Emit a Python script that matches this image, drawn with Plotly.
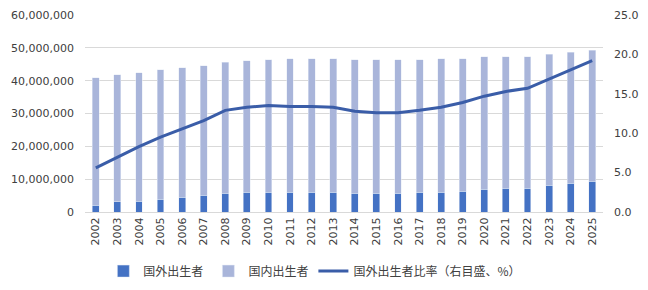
import plotly.graph_objects as go

years = [str(y) for y in range(2002, 2026)]

# foreign-born population (persons)
foreign = [2.0e6, 3.1e6, 3.3e6, 3.9e6, 4.5e6, 5.1e6, 5.7e6, 6.0e6, 6.0e6, 6.0e6, 6.0e6, 6.0e6,
           5.7e6, 5.7e6, 5.7e6, 6.0e6, 6.0e6, 6.3e6, 6.9e6, 7.2e6, 7.2e6, 8.2e6, 8.8e6, 9.4e6]
# total population (stack top), native = total - foreign
total = [40.9e6, 41.8e6, 42.4e6, 43.4e6, 44.0e6, 44.6e6, 45.6e6, 46.1e6, 46.4e6, 46.7e6, 46.7e6, 46.7e6,
         46.4e6, 46.4e6, 46.4e6, 46.4e6, 46.7e6, 46.7e6, 47.3e6, 47.3e6, 47.3e6, 48.0e6, 48.6e6, 49.2e6]
native = [t - f for t, f in zip(total, foreign)]
# foreign-born share (%), right axis
ratio = [5.6, 7.0, 8.3, 9.5, 10.5, 11.6, 12.9, 13.3, 13.5, 13.4, 13.4, 13.3,
         12.8, 12.6, 12.6, 12.9, 13.3, 13.9, 14.7, 15.3, 15.7, 16.9, 18.1, 19.2]

fig = go.Figure()
fig.add_trace(go.Bar(x=years, y=foreign, name="国外出生者", marker_color="#4472C4"))
fig.add_trace(go.Bar(x=years, y=native, name="国内出生者", marker_color="#A9B5DA"))
fig.add_trace(go.Scatter(x=years, y=ratio, name="国外出生者比率（右目盛、%）", yaxis="y2",
                         mode="lines", line=dict(color="#3A5DA8", width=3)))

# page body has an 8px margin, so the figure is a bit smaller and offset
fig.update_layout(
    width=640, height=282,
    margin=dict(l=77, r=45, t=7, b=78, autoexpand=False),
    barmode="stack", bargap=0.68,
    plot_bgcolor="white", paper_bgcolor="white",
    font=dict(family='"DejaVu Sans", "Noto Sans CJK JP"', size=11, color="#404040"),
    xaxis=dict(tickangle=-90, showgrid=False, showline=True, linecolor="#D9D9D9",
               ticks="", tickfont=dict(size=11), automargin=False),
    yaxis=dict(range=[0, 60e6], dtick=10e6, tickformat=",", gridcolor="#D9D9D9",
               zeroline=False, ticks="", ticklabelstandoff=10, automargin=False),
    yaxis2=dict(range=[0, 25], dtick=5, tickformat=".1f", overlaying="y", side="right",
                showgrid=False, zeroline=False, ticks="", ticklabelstandoff=10, automargin=False),
    legend=dict(orientation="h", x=0.149, xanchor="left", xref="container",
                y=0.067, yanchor="middle", yref="container",
                font=dict(family='"Noto Sans CJK JP"', size=12), traceorder="normal",
                itemwidth=30),
)

fig.write_html("out.html")
